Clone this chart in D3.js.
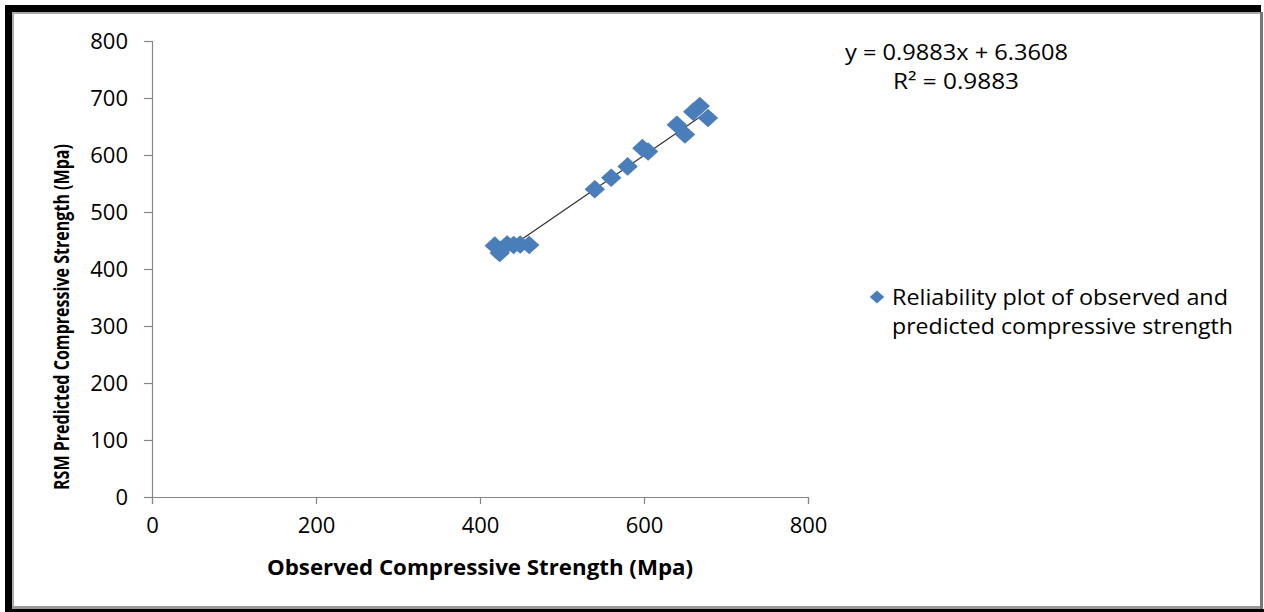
<!DOCTYPE html>
<html>
<head>
<meta charset="utf-8">
<script src="https://cdn.jsdelivr.net/npm/d3@7"></script>
<style>
    body { margin: 0; background: #fff; }
    text { font-family: "Open Sans", sans-serif; fill: #000; }
</style>
</head>
<body>
<svg id="chart" width="1264" height="612"></svg>
<script>
// Observed vs RSM predicted compressive strength (Mpa)
var observed  = [418, 424, 433, 441, 449, 460, 540, 560, 580, 598, 605, 640, 650, 660, 668, 678];
var predicted = [441, 428, 443, 442, 443, 442, 540, 560, 580, 612, 606, 653, 636, 676, 686, 665];
var xTicks = [0, 200, 400, 600, 800];
var yTicks = [0, 100, 200, 300, 400, 500, 600, 700, 800];
var slope = 0.9883, intercept = 6.3608, r2 = 0.9883;
var seriesName = ["Reliability plot of observed and", "predicted compressive strength"];

var svg = d3.select("#chart");
var blue = "#4a7ebb", axisGrey = "#868686";

// Frame (thick dark edge on top/left, grey shadow)
svg.append("rect").attr("x", 5).attr("y", 5).attr("width", 1256).attr("height", 7).attr("fill", "#000");
svg.append("rect").attr("x", 5).attr("y", 5).attr("width", 7).attr("height", 607).attr("fill", "#000");
svg.append("rect").attr("x", 5).attr("y", 609).attr("width", 1259).attr("height", 3).attr("fill", "#000");
svg.append("rect").attr("x", 12).attr("y", 12).attr("width", 1248).attr("height", 2).attr("fill", "#aaa");
svg.append("rect").attr("x", 12).attr("y", 12).attr("width", 2).attr("height", 597).attr("fill", "#aaa");
svg.append("rect").attr("x", 12).attr("y", 606).attr("width", 1250).attr("height", 3).attr("fill", "#999");
svg.append("rect").attr("x", 1260).attr("y", 12).attr("width", 3).attr("height", 597).attr("fill", "#777");

var x = d3.scaleLinear().domain([0, 800]).range([152, 808]);
var y = d3.scaleLinear().domain([0, 800]).range([497, 41]);

// Axes
var gx = svg.append("g").attr("transform", "translate(0," + y(0) + ")")
    .call(d3.axisBottom(x).tickValues(xTicks).tickSize(7).tickPadding(13));
var gy = svg.append("g").attr("transform", "translate(" + x(0) + ",0)")
    .call(d3.axisLeft(y).tickValues(yTicks).tickSize(8).tickPadding(16));
[gx, gy].forEach(function(g) {
    g.select(".domain").attr("stroke", axisGrey).attr("stroke-width", 1.2);
    g.selectAll(".tick line").attr("stroke", axisGrey).attr("stroke-width", 1.2);
    g.selectAll(".tick text").style("font-family", "Open Sans").style("font-size", "22px").attr("fill", "#000");
});

// Axis titles
svg.append("text")
    .attr("x", 480).attr("y", 575)
    .attr("text-anchor", "middle")
    .style("font-size", "21px").style("font-weight", "bold")
    .attr("textLength", 426).attr("lengthAdjust", "spacingAndGlyphs")
    .text("Observed Compressive Strength (Mpa)");

svg.append("text")
    .attr("transform", "translate(69,317) rotate(-90)")
    .attr("text-anchor", "middle")
    .style("font-size", "22px").style("font-weight", "bold")
    .attr("textLength", 346).attr("lengthAdjust", "spacingAndGlyphs")
    .text("RSM Predicted Compressive Strength (Mpa)");

// Trend line
var xMin = d3.min(observed), xMax = d3.max(observed);
svg.append("line")
    .attr("x1", x(xMin)).attr("y1", y(slope * xMin + intercept))
    .attr("x2", x(xMax)).attr("y2", y(slope * xMax + intercept))
    .attr("stroke", "#333").attr("stroke-width", 1.2);

// Points (diamonds)
var diamond = d3.symbol().type(d3.symbolDiamond2).size(220);
svg.append("g").selectAll("path")
    .data(observed.map(function(d, i) { return [d, predicted[i]]; }))
    .enter()
    .append("path")
    .attr("d", diamond)
    .attr("transform", function(d) { return "translate(" + x(d[0]) + "," + y(d[1]) + ") scale(1.1,1)"; })
    .attr("fill", blue);

// Trendline equation
svg.append("text").attr("x", 845).attr("y", 60)
    .style("font-size", "21px")
    .attr("textLength", 223).attr("lengthAdjust", "spacingAndGlyphs")
    .text("y = " + slope + "x + " + intercept);
svg.append("text").attr("x", 893).attr("y", 89)
    .style("font-size", "21px")
    .attr("textLength", 126).attr("lengthAdjust", "spacingAndGlyphs")
    .text("R² = " + r2);

// Legend
svg.append("path").attr("d", d3.symbol().type(d3.symbolDiamond2).size(110))
    .attr("transform", "translate(877,297) scale(1.1,1)").attr("fill", blue);
var legendWidths = [336, 341];
svg.append("g").selectAll("text")
    .data(seriesName)
    .enter()
    .append("text")
    .attr("x", 892)
    .attr("y", function(d, i) { return 305 + i * 29; })
    .style("font-size", "21px")
    .attr("textLength", function(d, i) { return legendWidths[i]; })
    .attr("lengthAdjust", "spacingAndGlyphs")
    .text(function(d) { return d; });
</script>
</body>
</html>
